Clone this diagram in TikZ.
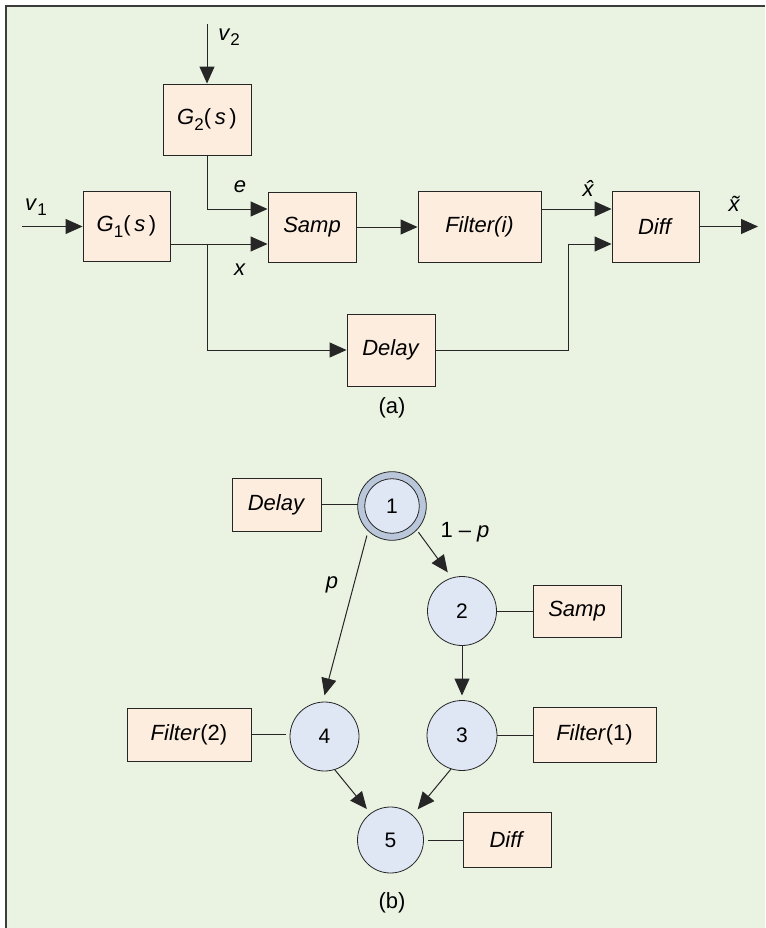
\documentclass[tikz,border=0pt]{standalone}
\usepackage{fontspec}
\setmainfont{Liberation Sans}
\usetikzlibrary{arrows.meta}
\definecolor{bgc}{HTML}{EAF3E2}
\definecolor{boxfill}{HTML}{FDEDDF}
\definecolor{circfill}{HTML}{DFE7F4}
\definecolor{ringfill}{HTML}{BAC7DA}
\definecolor{linec}{HTML}{262626}
\newcommand\subs[1]{\raisebox{-0.45ex}{\fontsize{17}{17}\selectfont #1}}
\begin{document}
\begin{tikzpicture}[x=1pt,y=-1pt,
  font=\fontsize{22}{26}\selectfont,
  blk/.style={draw=linec, fill=boxfill, line width=0.9pt, inner sep=0pt},
  circ/.style={circle, draw=linec, fill=circfill, line width=0.8pt, inner sep=0pt, outer sep=0pt, font=\fontsize{21}{24}\selectfont},
  arr/.style={draw=linec, line width=1pt, -{Triangle[length=17pt,width=15pt]}},
  ln/.style={draw=linec, line width=1pt},
  lbl/.style={inner sep=0pt}
]
\useasboundingbox (0,0) rectangle (765,928);
\fill[bgc] (6,6) rectangle (765,928);
\draw[line width=1.3pt, draw=linec!90] (765,6) -- (6,6) -- (6,928);

% ---------- (a) ----------
\node[blk, minimum width=88pt, minimum height=71pt] (G2) at (207,119.5) {\textit{G}\subs{2}(\,\textit{s}\,)};
\node[blk, minimum width=87pt, minimum height=70pt] (G1) at (126.5,226.5) {\textit{G}\subs{1}(\,\textit{s}\,)};
\node[blk, minimum width=88pt, minimum height=70pt] (Samp) at (312,227) {\textit{Samp}};
\node[blk, minimum width=123pt, minimum height=71pt] (Filt) at (479.5,226.5) {\textit{Filter(i)}};
\node[blk, minimum width=87pt, minimum height=71pt] (Diff) at (655.5,226.5) {\textit{Diff}};
\node[blk, minimum width=88pt, minimum height=72pt] (DelA) at (391,350) {\textit{Delay}};

\coordinate (v2s) at (207,24);
\coordinate (v1s) at (22,226.5);
\coordinate (ey) at (0,209);
\coordinate (xy) at (0,244);
\coordinate (dj) at (568,0);
\coordinate (xo) at (758,226.5);

\draw[arr] (v2s) -- (G2.north);
\draw[arr] (v1s) -- (G1.west);
\draw[arr] (G2.south) |- (Samp.west |- ey);
\draw[arr] (G1.east |- xy) -- (Samp.west |- xy);
\draw[arr] (G2.south |- xy) |- (DelA.west);
\draw[arr] (Samp.east) -- (Filt.west |- Samp.east);
\draw[arr] (Filt.east |- ey) -- (Diff.west |- ey);
\draw[arr] (DelA.east) -| (dj |- xy) -- (Diff.west |- xy);
\draw[arr] (Diff.east) -- (xo);

\node[lbl] (lv2) at (229,37) {\textit{v}\subs{2}};
\node[lbl] (lv1) at (36,207) {\textit{v}\subs{1}};
\node[lbl] (le) at (240,187) {\textit{e}};
\node[lbl] (lx) at (240,270) {\textit{x}};
\node[lbl] (lxh) at (590,188) {\textit{\^{x}}};
\node[lbl] (lxt) at (734,204) {\textit{\~{x}}};
\node[lbl] (capa) at (392,408) {(a)};

% ---------- (b) ----------
\node[blk, minimum width=89pt, minimum height=53pt] (DelB) at (276.5,504.5) {\textit{Delay}};
\node[blk, minimum width=88pt, minimum height=52pt] (SampB) at (577,611) {\textit{Samp}};
\node[blk, minimum width=123pt, minimum height=55pt] (F1) at (594.5,734.5) {\textit{Filter}(1)};
\node[blk, minimum width=124pt, minimum height=53pt] (F2) at (189,734.5) {\textit{Filter}(2)};
\node[blk, minimum width=88pt, minimum height=55pt] (DiffB) at (507,839.5) {\textit{Diff}};

\node[circ, fill=ringfill, minimum size=68.6pt] (n1) at (392,506) {};
\node[circ, minimum size=54.6pt] (n1i) at (n1) {1};
\node[circ, minimum size=69pt] (n2) at (462,611) {2};
\node[circ, minimum size=70pt] (n3) at (462,735.5) {3};
\node[circ, minimum size=69pt] (n4) at (324.5,736.5) {4};
\node[circ, minimum size=66pt] (n5) at (390.5,840) {5};

\draw[ln] (DelB.east) -- (n1.west |- DelB.east);
\draw[ln] (n2.east) -- (SampB.west |- n2.east);
\draw[ln] (n3.east) -- (F1.west |- n3.east);
\draw[ln, shorten >=4pt] (F2.east) -- (n4.west |- F2.east);
\draw[ln, shorten <=4pt] (n5.east) -- (DiffB.west |- n5.east);

\draw[arr, shorten <=3pt, shorten >=7pt] (n1.316) -- (n2.107);
\draw[arr, shorten <=5pt, shorten >=7pt] (n1.226) -- (n4.93);
\draw[arr, shorten >=5pt] (n2.south) -- (n3.north);
\draw[arr, shorten >=6pt] (n4.287) -- (n5.127);
\draw[arr, shorten >=8pt] (n3.252) -- (n5.48);

\node[lbl] (l1p) at (465,532) {1 – \textit{p}};
\node[lbl] (lp) at (332,585) {\textit{p}};
\node[lbl] (capb) at (392,903) {(b)};
\end{tikzpicture}
\end{document}
